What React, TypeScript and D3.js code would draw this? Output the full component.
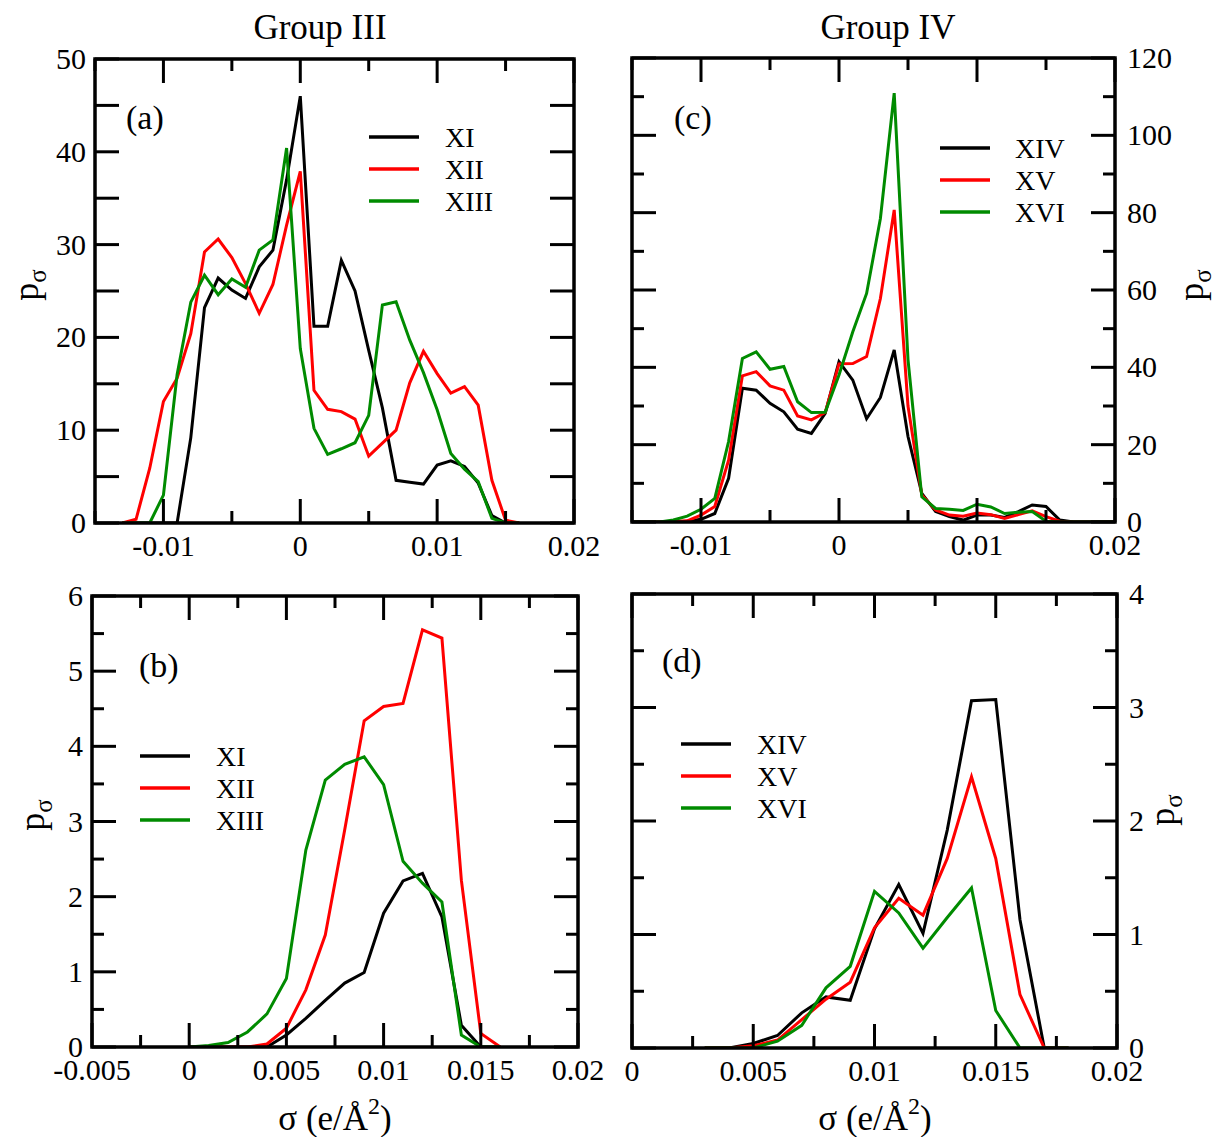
import React from 'react';
import * as d3 from 'd3';

// ---------- data ----------
// Panel (a) Group III, full range
const sigmaA = [-0.013, -0.012, -0.011, -0.010, -0.009, -0.008, -0.007, -0.006, -0.005, -0.004, -0.003, -0.002, -0.001, 0.000, 0.001, 0.002, 0.003, 0.004, 0.005, 0.006, 0.007, 0.008, 0.009, 0.010, 0.011, 0.012, 0.013, 0.014, 0.015, 0.016];
const xiA = [0, 0, 0, 0, 0, 9.2, 23.2, 26.4, 25.1, 24.2, 27.6, 29.4, 37.0, 46.0, 21.2, 21.2, 28.3, 25.0, 18.6, 12.4, 4.6, 4.4, 4.2, 6.25, 6.7, 6.1, 4.3, 0.8, 0, 0];
const xiiA = [0, 0.4, 5.9, 13.1, 15.6, 20.4, 29.2, 30.6, 28.6, 25.8, 22.6, 25.7, 32.1, 37.9, 14.3, 12.25, 12.0, 11.2, 7.2, 8.6, 10.0, 15.1, 18.5, 16.1, 14.0, 14.7, 12.7, 4.6, 0.3, 0];
const xiiiA = [0, 0, 0, 3.0, 16.0, 23.8, 26.7, 24.6, 26.3, 25.4, 29.4, 30.5, 40.4, 18.8, 10.2, 7.4, 8.0, 8.65, 11.6, 23.5, 23.85, 19.7, 16.2, 12.2, 7.5, 5.8, 4.45, 0.5, 0, 0];

// Panel (b) Group III, positive tail
const sigmaB = [0.000, 0.001, 0.002, 0.003, 0.004, 0.005, 0.006, 0.007, 0.008, 0.009, 0.010, 0.011, 0.012, 0.013, 0.014, 0.015, 0.016];
const xiB = [0, 0, 0, 0, 0, 0.16, 0.38, 0.62, 0.85, 0.99, 1.78, 2.21, 2.31, 1.73, 0.29, 0, 0];
const xiiB = [0, 0, 0, 0, 0.04, 0.25, 0.76, 1.49, 2.89, 4.34, 4.53, 4.57, 5.55, 5.44, 2.22, 0.18, 0];
const xiiiB = [0, 0.02, 0.06, 0.2, 0.44, 0.91, 2.62, 3.55, 3.76, 3.86, 3.49, 2.47, 2.18, 1.93, 0.16, 0, 0];

// Panel (c) Group IV, full range
const sigmaC = [-0.015, -0.014, -0.013, -0.012, -0.011, -0.010, -0.009, -0.008, -0.007, -0.006, -0.005, -0.004, -0.003, -0.002, -0.001, 0.000, 0.001, 0.002, 0.003, 0.004, 0.005, 0.006, 0.007, 0.008, 0.009, 0.010, 0.011, 0.012, 0.013, 0.014, 0.015, 0.016, 0.017, 0.018, 0.019, 0.020];
const xivC = [0, 0, 0, 0, 0.2, 0.7, 2.2, 11.3, 34.6, 34.1, 30.7, 28.5, 24.0, 22.9, 28.1, 41.5, 36.7, 26.7, 32.2, 44.5, 22.1, 7.4, 2.7, 1.4, 0.5, 1.8, 1.8, 1.2, 2.7, 4.4, 4.0, 0.5, 0, 0, 0, 0];
const xvC = [0, 0, 0, 0.1, 0.3, 1.8, 4.0, 16.0, 37.8, 38.9, 35.2, 34.1, 27.4, 26.4, 28.3, 40.9, 41.0, 42.8, 57.8, 80.7, 30.0, 7.0, 3.1, 1.8, 1.5, 2.3, 1.9, 0.9, 1.9, 2.9, 1.4, 0.2, 0, 0, 0, 0];
const xviC = [0, 0, 0, 0.5, 1.5, 3.3, 6.1, 20.8, 42.3, 44.0, 39.5, 40.2, 31.1, 28.3, 28.4, 38.0, 49.2, 59.1, 78.5, 110.9, 42.0, 6.5, 3.5, 3.3, 3.0, 4.6, 3.9, 2.2, 2.5, 2.7, 0.2, 0, 0, 0, 0, 0];

// Panel (d) Group IV, positive tail
const sigmaD = [0.003, 0.004, 0.005, 0.006, 0.007, 0.008, 0.009, 0.010, 0.011, 0.012, 0.013, 0.014, 0.015, 0.016, 0.017, 0.018];
const xivD = [0, 0, 0.04, 0.11, 0.31, 0.45, 0.42, 1.05, 1.44, 1.01, 1.92, 3.06, 3.07, 1.13, 0, 0];
const xvD = [0, 0, 0.02, 0.07, 0.25, 0.43, 0.58, 1.06, 1.32, 1.17, 1.67, 2.39, 1.67, 0.47, 0, 0];
const xviD = [0, 0, 0, 0.06, 0.2, 0.53, 0.72, 1.38, 1.19, 0.88, 1.15, 1.41, 0.33, 0, 0, 0];

// tick values and labels
const xTicksWide = [-0.01, 0, 0.01, 0.02];
const xTicksWideLabels = ['-0.01', '0', '0.01', '0.02'];
const xMinorWide = [-0.015, -0.005, 0.005, 0.015];
const xTicksB = [-0.005, 0, 0.005, 0.01, 0.015, 0.02];
const xTicksBLabels = ['-0.005', '0', '0.005', '0.01', '0.015', '0.02'];
const xMinorB = [-0.0025, 0.0025, 0.0075, 0.0125, 0.0175];
const xTicksD = [0, 0.005, 0.01, 0.015, 0.02];
const xTicksDLabels = ['0', '0.005', '0.01', '0.015', '0.02'];
const xMinorD = [0.0025, 0.0075, 0.0125, 0.0175];
const yTicksA = [0, 10, 20, 30, 40, 50];
const yMinorA = [5, 15, 25, 35, 45];
const yTicksB = [0, 1, 2, 3, 4, 5, 6];
const yMinorB = [0.5, 1.5, 2.5, 3.5, 4.5, 5.5];
const yTicksC = [0, 20, 40, 60, 80, 100, 120];
const yMinorC = [10, 30, 50, 70, 90, 110];
const yTicksD = [0, 1, 2, 3, 4];
const yMinorD = [0.5, 1.5, 2.5, 3.5];

const namesIII = ['XI', 'XII', 'XIII'];
const namesIV = ['XIV', 'XV', 'XVI'];
const COLORS = ['#000000', '#ff0000', '#008b00'];
const FONT = '"Liberation Serif", "Times New Roman", serif';

type Box = { l: number; r: number; t: number; b: number };

function Panel(props: {
  id: string;
  box: Box;
  xDomain: [number, number];
  yDomain: [number, number];
  xMajor: number[];
  xLabels: string[];
  xMinor: number[];
  yMajor: number[];
  yMinor: number[];
  yMinorLen: number;
  ySide: 'left' | 'right';
  sigma: number[];
  series: number[][];
  names: string[];
  tag: string;
  tagPos: [number, number];
  legendPos: [number, number, number];
}) {
  const { box } = props;
  const x = d3.scaleLinear().domain(props.xDomain).range([box.l, box.r]);
  const y = d3.scaleLinear().domain(props.yDomain).range([box.b, box.t]);
  const line = d3
    .line<number>()
    .x((_, i) => x(props.sigma[i]))
    .y((d) => y(d));
  const MAJ = 24;
  const ticks: JSX.Element[] = [];
  const addX = (v: number, len: number, k: string) => {
    const px = x(v);
    ticks.push(<line key={'xb' + k} x1={px} x2={px} y1={box.b} y2={box.b - len} />);
    ticks.push(<line key={'xt' + k} x1={px} x2={px} y1={box.t} y2={box.t + len} />);
  };
  const addY = (v: number, len: number, k: string) => {
    const py = y(v);
    ticks.push(<line key={'yl' + k} x1={box.l} x2={box.l + len} y1={py} y2={py} />);
    ticks.push(<line key={'yr' + k} x1={box.r} x2={box.r - len} y1={py} y2={py} />);
  };
  props.xMajor.forEach((v, i) => addX(v, MAJ, 'M' + i));
  props.xMinor.forEach((v, i) => addX(v, 12, 'm' + i));
  props.yMajor.forEach((v, i) => addY(v, MAJ, 'M' + i));
  props.yMinor.forEach((v, i) => addY(v, props.yMinorLen, 'm' + i));

  const [lx, ly, ltx] = props.legendPos;
  return (
    <g>
      <defs>
        <clipPath id={'clip' + props.id}>
          <rect x={box.l} y={box.t} width={box.r - box.l} height={box.b - box.t} />
        </clipPath>
      </defs>
      <g clipPath={`url(#clip${props.id})`} fill="none" strokeWidth={3} strokeLinejoin="miter">
        {props.series.map((s, i) => (
          <path key={i} d={line(s) || ''} stroke={COLORS[i]} />
        ))}
      </g>
      <g stroke="#000" strokeWidth={3}>{ticks}</g>
      <rect
        x={box.l}
        y={box.t}
        width={box.r - box.l}
        height={box.b - box.t}
        fill="none"
        stroke="#000"
        strokeWidth={3.5}
      />
      <g fontFamily={FONT} fontSize={30} fill="#000">
        {props.xMajor.map((v, i) => (
          <text key={'xl' + i} x={x(v)} y={box.b + 33} textAnchor="middle">
            {props.xLabels[i]}
          </text>
        ))}
        {props.yMajor.map((v, i) =>
          props.ySide === 'left' ? (
            <text key={'yl' + i} x={box.l - 9} y={y(v) + 10} textAnchor="end">
              {String(v)}
            </text>
          ) : (
            <text key={'yl' + i} x={box.r + 12} y={y(v) + 10} textAnchor="start">
              {String(v)}
            </text>
          )
        )}
      </g>
      <text x={props.tagPos[0]} y={props.tagPos[1]} fontFamily={FONT} fontSize={34}>
        {props.tag}
      </text>
      <g>
        {props.names.map((n, i) => (
          <g key={n}>
            <line x1={lx} x2={lx + 50} y1={ly + i * 32} y2={ly + i * 32} stroke={COLORS[i]} strokeWidth={3.5} />
            <text x={ltx} y={ly + i * 32 + 10} fontFamily={FONT} fontSize={28}>
              {n}
            </text>
          </g>
        ))}
      </g>
    </g>
  );
}

function YLabel({ x, y }: { x: number; y: number }) {
  return (
    <text transform={`translate(${x},${y}) rotate(-90)`} textAnchor="middle" fontFamily={FONT} fontSize={36}>
      p
      <tspan fontSize={25} dy={8}>σ</tspan>
    </text>
  );
}

function XLabel({ x, y }: { x: number; y: number }) {
  return (
    <text x={x} y={y} textAnchor="middle" fontFamily={FONT} fontSize={35}>
      σ (e/Å
      <tspan fontSize={24} dy={-16}>2</tspan>
      <tspan dy={16}>)</tspan>
    </text>
  );
}

export default function App() {
  return (
    <svg
      width={1217}
      height={1137}
      style={{ position: 'absolute', left: 0, top: 0, background: '#fff' }}
      xmlns="http://www.w3.org/2000/svg"
    >
      <rect width={1217} height={1137} fill="#fff" />
      <text x={320} y={39} textAnchor="middle" fontFamily={FONT} fontSize={35}>Group III</text>
      <text x={888} y={39} textAnchor="middle" fontFamily={FONT} fontSize={35}>Group IV</text>

      <Panel
        id="a"
        box={{ l: 95, r: 574, t: 59, b: 523 }}
        xDomain={[-0.015, 0.02]}
        yDomain={[0, 50]}
        xMajor={xTicksWide}
        xLabels={xTicksWideLabels}
        xMinor={xMinorWide}
        yMajor={yTicksA}
        yMinor={yMinorA}
        yMinorLen={24}
        ySide="left"
        sigma={sigmaA}
        series={[xiA, xiiA, xiiiA]}
        names={namesIII}
        tag="(a)"
        tagPos={[126, 129]}
        legendPos={[369, 137, 445]}
      />
      <Panel
        id="b"
        box={{ l: 92, r: 578, t: 596, b: 1047 }}
        xDomain={[-0.005, 0.02]}
        yDomain={[0, 6]}
        xMajor={xTicksB}
        xLabels={xTicksBLabels}
        xMinor={xMinorB}
        yMajor={yTicksB}
        yMinor={yMinorB}
        yMinorLen={12}
        ySide="left"
        sigma={sigmaB}
        series={[xiB, xiiB, xiiiB]}
        names={namesIII}
        tag="(b)"
        tagPos={[139, 677]}
        legendPos={[140, 756, 216]}
      />
      <Panel
        id="c"
        box={{ l: 632, r: 1115, t: 58, b: 522 }}
        xDomain={[-0.015, 0.02]}
        yDomain={[0, 120]}
        xMajor={xTicksWide}
        xLabels={xTicksWideLabels}
        xMinor={xMinorWide}
        yMajor={yTicksC}
        yMinor={yMinorC}
        yMinorLen={12}
        ySide="right"
        sigma={sigmaC}
        series={[xivC, xvC, xviC]}
        names={namesIV}
        tag="(c)"
        tagPos={[674, 129]}
        legendPos={[940, 148, 1015]}
      />
      <Panel
        id="d"
        box={{ l: 632, r: 1117, t: 594, b: 1048 }}
        xDomain={[0, 0.02]}
        yDomain={[0, 4]}
        xMajor={xTicksD}
        xLabels={xTicksDLabels}
        xMinor={xMinorD}
        yMajor={yTicksD}
        yMinor={yMinorD}
        yMinorLen={12}
        ySide="right"
        sigma={sigmaD}
        series={[xivD, xvD, xviD]}
        names={namesIV}
        tag="(d)"
        tagPos={[662, 672]}
        legendPos={[681, 744, 757]}
      />

      <YLabel x={38} y={285} />
      <YLabel x={44} y={815} />
      <YLabel x={1203} y={285} />
      <YLabel x={1174} y={810} />
      <XLabel x={335} y={1130} />
      <XLabel x={875} y={1130} />
    </svg>
  );
}
